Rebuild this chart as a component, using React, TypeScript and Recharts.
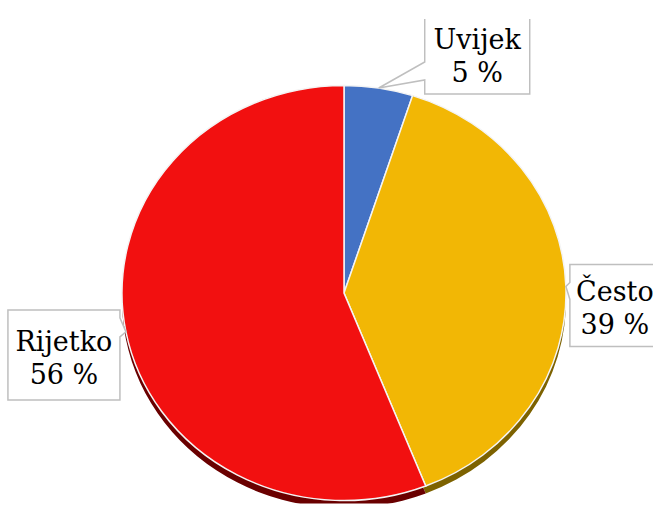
import { PieChart, Pie, Cell } from 'recharts';

const categories = ['Uvijek', 'Često', 'Rijetko'];
const shares = [5, 39, 56];
const colors = ['#4472C4', '#F2B705', '#F21010'];
const edgeColors = ['#22396a', '#7d6200', '#6a0000'];

const data = categories.map((name, i) => ({ name, value: shares[i] }));

// the pie is drawn as a circle and squashed vertically to match the tilted look
const SQUASH = 0.935;
const CX = 344;
const CY = 293;
const FONT = 'DejaVu Serif';

// callout boxes, relative to the point on the slice edge
const callouts: Record<string, { dx: number; dy: number; w: number; h: number; side: 'left' | 'right'; a: number; b: number }> = {
    Uvijek: { dx: 46, dy: -75, w: 105, h: 81, side: 'left', a: 49, b: 67 },
    'Često': { dx: 4, dy: -22, w: 90, h: 82, side: 'left', a: 18, b: 35 },
    Rijetko: { dx: -118, dy: -22, w: 112, h: 90, side: 'right', a: 8, b: 27 },
};

const RADIAN = Math.PI / 180;

function renderCallout(props: any) {
    const { cx, cy, midAngle, outerRadius, name, value } = props;
    const c = callouts[name];
    if (!c) return null;
    const tx = cx + outerRadius * Math.cos(-midAngle * RADIAN);
    const tyRaw = cy + outerRadius * Math.sin(-midAngle * RADIAN);
    const ty = cy + (tyRaw - cy) * SQUASH;
    const left = tx + c.dx;
    const top = ty + c.dy;
    const right = left + c.w;
    const bottom = top + c.h;
    let d;
    if (c.side === 'left') {
        d = `M${left},${top} H${right} V${bottom} H${left} V${top + c.b} L${tx},${ty} L${left},${top + c.a} Z`;
    } else {
        d = `M${left},${top} H${right} V${top + c.a} L${tx},${ty} L${right},${top + c.b} V${bottom} H${left} Z`;
    }
    const mid = left + c.w / 2;
    const base = top + c.h / 2;
    return (
        <g transform={`translate(0,${cy}) scale(1,${1 / SQUASH}) translate(0,${-cy})`}>
            <path d={d} fill="#fff" stroke="#bfbfbf" strokeWidth={1.5} />
            <text x={mid} y={base - 4} textAnchor="middle" fontFamily={FONT} fontSize={27} fill="#000">
                {name}
            </text>
            <text x={mid} y={base + 29} textAnchor="middle" fontFamily={FONT} fontSize={27} fill="#000">
                {value} %
            </text>
        </g>
    );
}

export default function App() {
    return (
        <div style={{ position: 'absolute', left: 0, top: 0, width: 653, height: 518, background: '#fff', overflow: 'hidden' }}>
            <div style={{ width: 653, height: 518, transform: `scaleY(${SQUASH})`, transformOrigin: `${CX}px ${CY}px` }}>
                <PieChart width={653} height={518} margin={{ top: 0, right: 0, bottom: 0, left: 0 }}>
                    <Pie
                        data={data}
                        dataKey="value"
                        nameKey="name"
                        cx={CX}
                        cy={CY + 8}
                        outerRadius={222}
                        startAngle={90}
                        endAngle={-270}
                        stroke="none"
                        isAnimationActive={false}
                    >
                        {data.map((d, i) => (
                            <Cell key={d.name} fill={edgeColors[i]} />
                        ))}
                    </Pie>
                    <Pie
                        data={data}
                        dataKey="value"
                        nameKey="name"
                        cx={CX}
                        cy={CY}
                        outerRadius={222}
                        startAngle={90}
                        endAngle={-270}
                        stroke="#f4f4f4"
                        strokeWidth={1.5}
                        label={renderCallout}
                        labelLine={false}
                        isAnimationActive={false}
                    >
                        {data.map((d, i) => (
                            <Cell key={d.name} fill={colors[i]} />
                        ))}
                    </Pie>
                </PieChart>
            </div>
        </div>
    );
}
